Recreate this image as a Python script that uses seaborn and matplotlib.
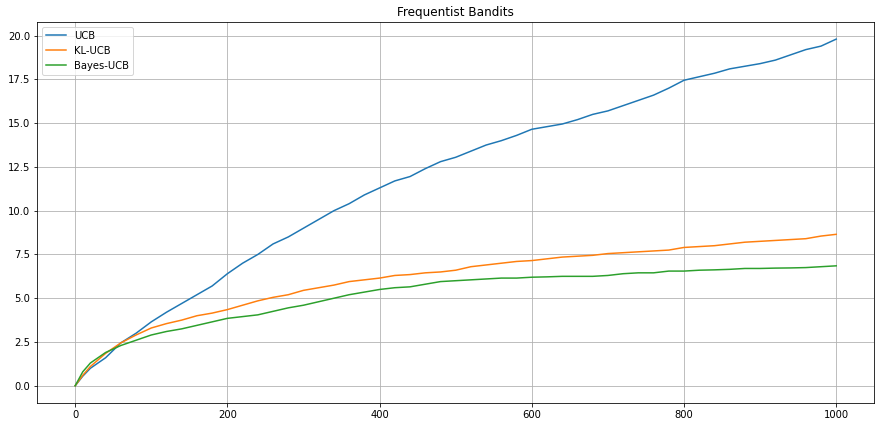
import numpy as np
import pandas as pd
import seaborn as sns
import matplotlib.pyplot as plt

rounds = [0, 10, 20, 40, 60, 80, 100, 120, 140, 160, 180, 200, 220, 240, 260, 280, 300,
          320, 340, 360, 380, 400, 420, 440, 460, 480, 500, 520, 540, 560, 580, 600,
          620, 640, 660, 680, 700, 720, 740, 760, 780, 800, 820, 840, 860, 880, 900,
          920, 940, 960, 980, 1000]

ucb = [0.0, 0.55, 1.0, 1.6, 2.45, 3.0, 3.65, 4.2, 4.7, 5.2, 5.7, 6.4, 7.0, 7.5, 8.1, 8.5,
       9.0, 9.5, 10.0, 10.4, 10.9, 11.3, 11.7, 11.95, 12.4, 12.8, 13.05, 13.4, 13.75,
       14.0, 14.3, 14.65, 14.8, 14.95, 15.2, 15.5, 15.7, 16.0, 16.3, 16.6, 17.0, 17.45,
       17.65, 17.85, 18.1, 18.25, 18.4, 18.6, 18.9, 19.2, 19.4, 19.8]

kl_ucb = [0.0, 0.6, 1.1, 1.85, 2.45, 2.9, 3.3, 3.55, 3.75, 4.0, 4.15, 4.35, 4.6, 4.85,
          5.05, 5.2, 5.45, 5.6, 5.75, 5.95, 6.05, 6.15, 6.3, 6.35, 6.45, 6.5, 6.6, 6.8,
          6.9, 7.0, 7.1, 7.15, 7.25, 7.35, 7.4, 7.45, 7.55, 7.6, 7.65, 7.7, 7.75, 7.9,
          7.95, 8.0, 8.1, 8.2, 8.25, 8.3, 8.35, 8.4, 8.55, 8.65]

bayes_ucb = [0.0, 0.8, 1.3, 1.9, 2.3, 2.6, 2.9, 3.1, 3.25, 3.45, 3.65, 3.85, 3.95, 4.05,
             4.25, 4.45, 4.6, 4.8, 5.0, 5.2, 5.35, 5.5, 5.6, 5.65, 5.8, 5.95, 6.0, 6.05,
             6.1, 6.15, 6.15, 6.2, 6.22, 6.25, 6.25, 6.25, 6.3, 6.4, 6.45, 6.45, 6.55,
             6.55, 6.6, 6.62, 6.65, 6.7, 6.7, 6.72, 6.73, 6.75, 6.8, 6.85]

df = pd.DataFrame({"t": rounds, "UCB": ucb, "KL-UCB": kl_ucb, "Bayes-UCB": bayes_ucb})

colors = sns.color_palette("tab10")

fig = plt.figure(figsize=(884 / 72, 427 / 72), dpi=72)
ax = fig.add_axes([0.042, 0.056, 0.947, 0.893])

for i, name in enumerate(["UCB", "KL-UCB", "Bayes-UCB"]):
    sns.lineplot(data=df, x="t", y=name, ax=ax, color=colors[i], label=name, linewidth=1.5)

ax.set_xlabel("")
ax.set_ylabel("")
ax.set_title("Frequentist Bandits", fontsize=12)
ax.grid(True, color="#b0b0b0", linewidth=0.8)
ax.tick_params(labelsize=10)
ax.legend(loc="upper left", fontsize=10)

fig.savefig("out.png", dpi=72)
